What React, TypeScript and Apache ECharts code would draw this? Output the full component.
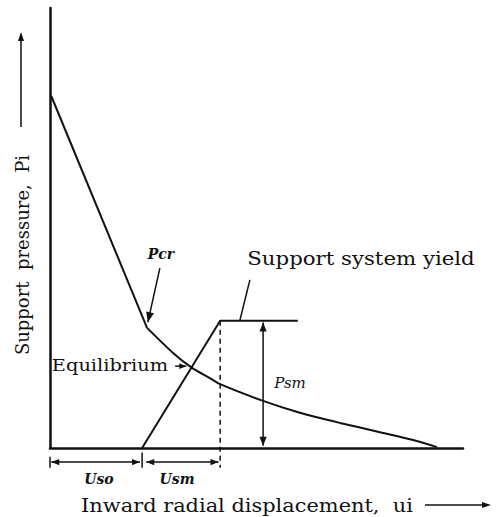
import React, { useEffect, useRef } from "react";
import * as echarts from "echarts";

// Ground reaction curve (inward displacement vs support pressure), arbitrary units
const groundX = [0.03, 2.35, 2.98, 3.44, 3.87, 4.12, 5.16, 6.05, 7.02, 7.99, 8.79, 9.37];
const groundY = [8.0, 2.73, 2.16, 1.82, 1.59, 1.45, 1.07, 0.8, 0.57, 0.36, 0.18, 0.02];
// Support characteristic line
const supportX = [2.23, 4.12, 6.0];
const supportY = [0, 2.89, 2.89];
// Key quantities
const uso = 2.23;
const usm = 4.12;
const psm = 2.89;
const dimY = -0.32;
// Annotation arrows: [x1, y1, x2, y2, heads (0 none, 1 end, 2 both), head size]
const arrowNames = ["Psm", "Uso", "Usm", "Pcr", "Equilibrium", "Yield leader", "Tick 0", "Tick Uso"];
const arrowData = [
  [5.16, psm - 0.04, 5.16, 0.05, 2, 9],
  [0.03, dimY, uso - 0.05, dimY, 2, 8],
  [uso + 0.1, dimY, usm - 0.04, dimY, 2, 8],
  [2.66, 4.09, 2.37, 2.86, 1, 10],
  [3.03, 1.86, 3.3, 1.86, 1, 7],
  [4.84, 3.82, 4.6, 2.91, 0, 0],
  [0, -0.2, 0, -0.45, 0, 0],
  [uso, -0.1, uso, -0.45, 0, 0],
];

const SERIF = "'DejaVu Serif', 'Liberation Serif', serif";

export default function App() {
  const ref = useRef<HTMLDivElement>(null);
  useEffect(() => {
    if (!ref.current) return;
    const chart = echarts.init(ref.current, null, { renderer: "svg" });
    const black = "#111";
    const pcrIndex = 1;
    const renderArrow = (params: any, api: any) => {
      const p1 = api.coord([api.value(0), api.value(1)]);
      const p2 = api.coord([api.value(2), api.value(3)]);
      const heads = api.value(4);
      const size = api.value(5);
      const dx = p2[0] - p1[0];
      const dy = p2[1] - p1[1];
      const len = Math.sqrt(dx * dx + dy * dy) || 1;
      const ux = dx / len;
      const uy = dy / len;
      const nx = -uy;
      const ny = ux;
      const w = size * 0.4;
      const head = (tip: number[], sx: number, sy: number) => ({
        type: "polygon",
        shape: {
          points: [
            [tip[0], tip[1]],
            [tip[0] - sx * size + nx * w, tip[1] - sy * size + ny * w],
            [tip[0] - sx * size - nx * w, tip[1] - sy * size - ny * w],
          ],
        },
        style: { fill: black },
      });
      const children: any[] = [
        {
          type: "line",
          shape: { x1: p1[0], y1: p1[1], x2: p2[0], y2: p2[1] },
          style: { stroke: black, lineWidth: 1.5 },
        },
      ];
      if (heads >= 1) children.push(head(p2, ux, uy));
      if (heads >= 2) children.push(head(p1, -ux, -uy));
      return { type: "group", children };
    };
    chart.setOption({
      animation: false,
      grid: { left: 50, top: 8, width: 413, height: 440 },
      xAxis: {
        type: "value",
        min: 0,
        max: 10,
        axisLine: { show: true, onZero: false, lineStyle: { color: black, width: 2.5 } },
        axisTick: { show: false },
        axisLabel: { show: false },
        splitLine: { show: false },
      },
      yAxis: {
        type: "value",
        min: 0,
        max: 10,
        axisLine: { show: true, onZero: false, lineStyle: { color: black, width: 2.5 } },
        axisTick: { show: false },
        axisLabel: { show: false },
        splitLine: { show: false },
      },
      series: [
        {
          type: "line",
          name: "Ground reaction (elastic)",
          data: groundX.slice(0, pcrIndex + 1).map((x, i) => [x, groundY[i]]),
          showSymbol: false,
          lineStyle: { color: black, width: 2 },
          clip: false,
        },
        {
          type: "line",
          name: "Ground reaction (plastic)",
          data: groundX.slice(pcrIndex).map((x, i) => [x, groundY[i + pcrIndex]]),
          showSymbol: false,
          smooth: 0.25,
          lineStyle: { color: black, width: 2 },
          clip: false,
        },
        {
          type: "line",
          name: "Support",
          data: supportX.map((x, i) => [x, supportY[i]]),
          showSymbol: false,
          lineStyle: { color: black, width: 2 },
          clip: false,
        },
        {
          type: "line",
          name: "Yield dashed",
          data: [
            [usm, psm],
            [usm, -0.45],
          ],
          showSymbol: false,
          lineStyle: { color: black, width: 1.5, type: [5, 4] },
          clip: false,
        },
        {
          type: "custom",
          name: "Annotations",
          clip: false,
          silent: true,
          encode: { x: [0, 2], y: [1, 3] },
          renderItem: renderArrow,
          data: arrowData.map((d, i) => ({ name: arrowNames[i], value: d })),
        },
      ],
      graphic: [
        {
          type: "text",
          x: 22,
          y: 255,
          rotation: Math.PI / 2,
          style: {
            text: "Support  pressure,  Pi",
            fontFamily: SERIF,
            fontSize: 18,
            fill: black,
            align: "center",
            verticalAlign: "middle",
          },
        },
        { type: "line", shape: { x1: 21, y1: 127, x2: 21, y2: 40 }, style: { stroke: black, lineWidth: 1.5 } },
        { type: "polygon", shape: { points: [[21, 32], [18, 41], [24, 41]] }, style: { fill: black } },
        {
          type: "text",
          x: 247,
          y: 505,
          scaleX: 1.1,
          style: {
            text: "Inward radial displacement,  ui",
            fontFamily: SERIF,
            fontSize: 19,
            fill: black,
            align: "center",
            verticalAlign: "middle",
          },
        },
        { type: "line", shape: { x1: 425, y1: 505, x2: 484, y2: 505 }, style: { stroke: black, lineWidth: 1.5 } },
        { type: "polygon", shape: { points: [[491, 505], [482, 502], [482, 508]] }, style: { fill: black } },
        {
          type: "text",
          x: 361,
          y: 258,
          scaleX: 1.12,
          style: { text: "Support system yield", fontFamily: SERIF, fontSize: 19, fill: black, align: "center", verticalAlign: "middle" },
        },
        {
          type: "text",
          x: 110,
          y: 365,
          scaleX: 1.14,
          style: { text: "Equilibrium", fontFamily: SERIF, fontSize: 17, fill: black, align: "center", verticalAlign: "middle" },
        },
        {
          type: "text",
          x: 161,
          y: 254,
          style: { text: "Pcr", fontFamily: SERIF, fontSize: 14, fontStyle: "italic", fontWeight: "bold", fill: black, align: "center", verticalAlign: "middle" },
        },
        {
          type: "text",
          x: 290,
          y: 383,
          style: { text: "Psm", fontFamily: SERIF, fontSize: 15, fontStyle: "italic", fill: black, align: "center", verticalAlign: "middle" },
        },
        {
          type: "text",
          x: 99,
          y: 479,
          style: { text: "Uso", fontFamily: SERIF, fontSize: 14, fontStyle: "italic", fontWeight: "bold", fill: black, align: "center", verticalAlign: "middle" },
        },
        {
          type: "text",
          x: 177,
          y: 479,
          style: { text: "Usm", fontFamily: SERIF, fontSize: 14, fontStyle: "italic", fontWeight: "bold", fill: black, align: "center", verticalAlign: "middle" },
        },
      ],
    });
    return () => chart.dispose();
  }, []);
  return (
    <div
      ref={ref}
      style={{ position: "absolute", left: 0, top: 0, width: 496, height: 517, background: "#fff" }}
    />
  );
}
